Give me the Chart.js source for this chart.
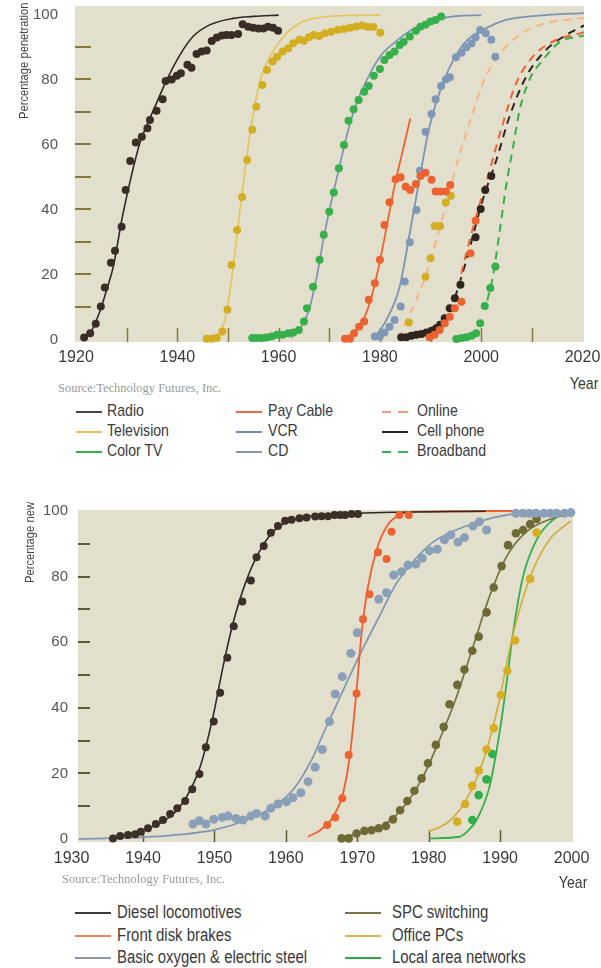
<!DOCTYPE html>
<html>
<head>
<meta charset="utf-8">
<script src="https://cdn.jsdelivr.net/npm/chart.js@4.4.1/dist/chart.umd.min.js"></script>
<style>
html,body{margin:0;padding:0;background:#fff;}
#wrap{position:relative;width:601px;height:968px;overflow:hidden;font-family:'Liberation Sans',Arial,sans-serif;color:#3a3a3a;}
canvas{position:absolute;left:0;}
.t{position:absolute;white-space:nowrap;line-height:1.2;transform:scaleX(0.83);transform-origin:0 50%;}
.tr{transform-origin:100% 50%;}
.ls{position:absolute;}
.src{position:absolute;white-space:nowrap;font-family:'Liberation Serif','DejaVu Serif',serif;color:#9a9a9a;line-height:1.2;}
.yt{position:absolute;white-space:nowrap;line-height:1.2;transform-origin:0 0;transform:rotate(-90deg) scaleX(0.83);color:#444;}
</style>
</head>
<body>
<div id="wrap">
  <canvas id="c1" width="601" height="372" style="top:0"></canvas>
  <canvas id="c2" width="601" height="380" style="top:495px"></canvas>
  <div class="yt" id="yt1" style="font-size:13.5px;">Percentage penetration</div>
  <div class="yt" id="yt2" style="font-size:13.5px;">Percentage new</div>
  <div class="t tr" style="right:3px;top:374px;font-size:17px;">Year</div>
  <div class="src" style="left:58px;top:381px;font-size:12.5px;">Source:Technology Futures, Inc.</div>
  <div class="t tr" style="right:14px;top:873px;font-size:17px;">Year</div>
  <div class="src" style="left:62px;top:872px;font-size:12.5px;">Source:Technology Futures, Inc.</div>
</div>
<script>
// ---------------- TOP CHART DATA ----------------
const topXLabels = [1920, 1940, 1960, 1980, 2000, 2020];
const topXMinor = [1930, 1940, 1950, 1960, 1970, 1980, 1990, 2000, 2010];
const topYLabels = [0, 20, 40, 60, 80, 100];
const topYMinor = [10, 20, 30, 40, 50, 60, 70, 80, 90];

const radioDotYears = [1921.6,1922.8,1923.9,1924.9,1925.7,1926.9,1927.7,1929.0,1929.8,1930.7,1931.8,1933.0,1934.1,1934.6,1935.9,1937.1,1937.7,1938.9,1939.9,1940.7,1942.0,1942.8,1943.8,1944.8,1945.8,1946.8,1947.8,1948.8,1949.7,1950.7,1952.0,1952.9,1954.0,1955.0,1956.0,1957.0,1957.9,1958.9,1959.9];
const radioDotValues = [0.6,1.9,4.8,10.1,16,23.6,27.3,34.7,46,54.9,60.6,62.4,65,67.5,70.4,73.9,79.5,80,81.1,81.9,84.5,83.6,87.8,88.6,88.9,91.8,92.9,93.5,93.7,93.7,94,97,96.2,95.9,95.7,95.7,96.2,95.9,95];
const radioLineYears = [1921.5,1923,1924.7,1926,1927.4,1929,1930.3,1931.5,1932.6,1934,1935.3,1937.9,1940.5,1943.1,1946.4,1951,1955,1960];
const radioLineValues = [0,2.5,8.6,15,22.7,36.5,46,54,60.4,66,70.6,79.8,87.5,93.2,96.8,98.8,99.4,99.8];

const tvDotYears = [1945.8,1946.8,1947.8,1948.9,1949.9,1950.7,1951.8,1952.8,1953.8,1954.8,1955.6,1956.8,1957.7,1958.8,1959.7,1960.8,1961.9,1962.9,1964.1,1965.0,1966.0,1966.9,1968.0,1969.1,1970.4,1971.7,1972.9,1974.1,1975.3,1976.5,1977.6,1978.7,1980.1];
const tvDotValues = [0.2,0.2,0.5,2.4,9.1,22.9,33.7,43.8,55.2,64.5,71.6,78.3,82.9,85.5,87,88.6,89.6,91.1,92.2,91.9,93,93.7,93.4,94.2,94.7,95.3,95.5,95.9,96.3,96.6,96.2,96.1,94.4];
const tvLineYears = [1946.5,1948,1949.4,1950.7,1952.3,1953.7,1955,1956.6,1958.9,1961.6,1964.8,1969.4,1975,1980];
const tvLineValues = [0,1.5,6,18.3,38.8,56.2,69.6,80.9,88.6,94.2,97.8,99.3,99.7,99.8];

const colorTvDotYears = [1954.8,1955.6,1956.6,1957.6,1958.6,1959.7,1960.8,1961.9,1962.9,1964.0,1965.0,1965.6,1966.8,1968.1,1968.9,1970.0,1970.9,1971.9,1972.9,1973.8,1974.8,1975.8,1976.9,1977.8,1978.8,1980.0,1980.9,1981.9,1982.9,1983.9,1984.7,1985.9,1987.1,1988.0,1989.0,1990.0,1991.0,1992.1];
const colorTvDotValues = [0.4,0.4,0.4,0.6,0.9,1.4,1.4,1.9,2.1,2.9,5.5,9.6,16.2,24.5,32.2,39.3,45.2,52.7,59.8,67.3,70.8,73.7,76.2,78,81.1,83.2,86,87.5,88.6,90.6,91.6,93.2,95,96.2,96.8,97.8,98.3,99.4];
const colorTvLineYears = [1962.5,1964.5,1966,1967.5,1969,1970.5,1972,1973.5,1975,1977,1980,1983,1986,1990,1995,2000];
const colorTvLineValues = [0.5,4,9,19,32,43,53,63,71,78.5,87,91.5,95,98,99.5,99.8];

const payCableDotYears = [1973.1,1974.1,1974.9,1975.9,1976.9,1977.8,1979,1980,1980.9,1981.9,1983.1,1984.1,1985.1,1986,1987.1,1988,1989,1990.2,1991,1991.9,1993,1993.9];
const payCableDotValues = [0.2,0.2,1.9,3.9,5.5,12.2,17.3,24.5,35.2,42.2,49.3,49.9,47,46,47.8,50.3,51.3,49.1,45.5,45.5,45.5,47.5];
const payCableLineYears = [1972.7,1975,1977,1978.5,1980,1981.5,1983,1984.5,1986];
const payCableLineValues = [0,2.5,7,14,24,36,48,58,68];

const vcrDotYears = [1979,1980,1980.9,1981.9,1982.9,1984.1,1984.9,1985.9,1987.2,1987.9,1989,1990.2,1991,1992.1,1993,1993.8,1995,1996.1,1997.1,1998.1,1998.9,1999.8,2000.9,2002,2002.8];
const vcrDotValues = [0.9,0.9,2.1,3.9,6,10.1,17.8,29.9,39.8,51.9,63.9,69.4,73.9,78,80,80.7,86.8,88.2,89.9,91.1,93,95.2,94.2,92.2,87];
const vcrLineYears = [1978.6,1981.3,1983.9,1985.9,1987.9,1989.8,1992.4,1995.7,1997.5,1999.7,2004.9,2012.8,2020.3];
const vcrLineValues = [0,6,16.2,32.7,50.1,65.5,78.8,89.1,92.5,94.7,98.3,99.8,100.4];

const cdDotYears = [1985.7,1989,1990,1990.8,1991.9,1993,1994];
const cdDotValues = [5.2,19.3,25,34.9,34.9,42.1,44.2];

const onlineLineYears = [1983.9,1984.6,1987.2,1989.2,1992.4,1994.3,1996.4,1998.1,2000.3,2003,2005.5,2007.6,2010.2,2014.1,2020.3];
const onlineLineValues = [0,3.4,12.2,20.4,37.8,49,60.4,68.6,78.8,86.5,91,93.7,96,97.8,98.9];

const cellDotYears = [1984.2,1985.2,1986.2,1987.2,1988.2,1989.2,1990.2,1991.1,1991.9,1992.8,1993.8,1994.8,1995.9,1998.9,1999.9,2000.8,2002];
const cellDotValues = [0.7,0.7,1.1,1.4,1.7,2.1,2.7,3.4,4.5,6.5,9.6,12.7,16.8,31.4,40.1,46,50.3];
const cellLineYears = [1994.8,1997.1,2000.3,2003,2005.6,2008.9,2012.8,2016.8,2020.3];
const cellLineValues = [12.7,24.5,42.9,55.2,68.6,80.9,89.1,93.7,96.6];

const onlineDotYears = [1989.8,1990.8,1991.8,1992.8,1993.8,1994.8,1996.1,1997.9,1998.9];
const onlineDotValues = [0.7,1.4,2.9,5,7,9.6,11.6,26.5,36.5];
const onlineFitYears = [1995.5,1996.4,1999,2001.7,2004.3,2006.9,2010.2,2014.1,2020.3];
const onlineFitValues = [16,22.4,37.8,52.2,66.5,78.8,87,91.6,94.5];

const broadbandDotYears = [1995.1,1996.1,1997.1,1998.1,1999,1999.8,2000.7,2001.8,2002.8];
const broadbandDotValues = [0.1,0.4,0.7,1.1,1.9,5,10.3,15.8,22.4];
const broadbandLineYears = [2001.2,2002.3,2003.6,2004.9,2006.3,2007.6,2009.5,2012.2,2015.5,2020.3];
const broadbandLineValues = [12,19.3,32.7,47,59.3,70.6,79.8,86,91.5,93.5];

// ---------------- BOTTOM CHART DATA ----------------
const botXLabels = [1930, 1940, 1950, 1960, 1970, 1980, 1990, 2000];
const botXMinor = [1940, 1950, 1960, 1970, 1980, 1990];
const botYLabels = [0, 20, 40, 60, 80, 100];
const botYMinor = [10, 20, 30, 40, 50, 60, 70, 80, 90];

const dieselDotYears = [1935.8,1936.8,1937.9,1938.9,1939.7,1940.7,1941.8,1942.8,1943.8,1944.8,1945.9,1946.9,1947.9,1948.8,1949.9,1950.8,1951.8,1952.7,1953.9,1955.1,1955.9,1956.9,1957.9,1958.9,1959.9,1960.8,1961.9,1962.9,1964.1,1965.0,1965.9,1966.8,1967.6,1968.3,1969.2,1970.1];
const dieselDotValues = [0.2,0.9,1.2,1.5,2.2,3.3,4.6,5.8,7.6,9.4,11.6,15.2,19.8,28,35.8,44.6,55.3,64.9,72.4,78.8,85.9,89.3,93.4,95.4,97,97.3,97.8,98,98.3,98.4,98.4,98.8,98.8,98.8,99.1,99.1];
const dieselLineYears = [1935.4,1940,1943.8,1946.1,1948,1949.8,1951.2,1952.6,1954.5,1956.4,1958.7,1962,1965.7,1975,1988];
const dieselLineValues = [0.3,2.7,6.8,12.9,22,37.3,52.5,65.8,79,88.1,94.7,97.8,98.8,99.6,99.9];

const brakesDotYears = [1965.8,1966.9,1967.9,1968.8,1969.9,1970.8,1971.7,1972.9,1974.1,1974.8,1975.9,1977.2];
const brakesDotValues = [4.3,6.6,12.4,25.6,44.4,67,74.6,87.4,85.4,93.7,98.8,98.8];
const brakesLineYears = [1963.1,1964.8,1966.6,1968,1969,1969.9,1970.6,1971.5,1972.7,1974.1,1975.9,1978.7,1991.8];
const brakesLineValues = [0.7,2.7,6.8,13.9,26.1,45.4,62.7,76.9,88.1,95.2,98.8,99.8,100];

const steelDotYears = [1947,1947.9,1948.8,1949.9,1951.1,1951.9,1953,1954,1955.1,1955.9,1957.1,1957.9,1958.9,1960.1,1961,1962.1,1963.1,1964.1,1965.1,1966.1,1966.9,1967.9,1969.1,1970,1973,1974.1,1975.1,1976.2,1977.1,1978.2,1979.1,1980.1,1981.2,1982.2,1983.1,1984.1,1985,1986.2,1987.1,1988.1,1992.2,1993.2,1994.1,1995,1996.1,1997,1997.9,1999,1999.9];
const steelDotValues = [4.6,5.6,4.6,6,6.6,7,6.3,5.8,7,7.8,7,9.4,10.7,11.4,12.6,14.1,17.5,21.9,27.3,35.8,44.2,49.5,56.6,62.9,73.1,75.1,80.5,81.5,83.5,83.8,85.6,87.9,88.3,91.2,92.7,90.5,91.9,95.4,96.7,94.2,99.3,99.3,99.3,99.3,99.3,99.3,99.3,99.3,99.5];
const steelLineYears = [1931,1942,1950,1954.5,1958.2,1961,1963.8,1965,1967,1969,1971,1973,1975.5,1978,1980.6,1983.4,1986.7,1991,1997,2000];
const steelLineValues = [0,0.8,2.8,5.8,9.8,15,25,31,40.5,50,59,67.5,78,85,90.5,93.8,96.5,98.8,99.5,99.7];

const spcDotYears = [1967.8,1968.8,1969.9,1971,1972,1973,1974,1975,1976,1977,1978,1979,1979.9,1981,1982.1,1982.9,1984,1985,1986.1,1987,1988.1,1989.1,1990.2,1991.1,1992.2,1993.2,1994.2,1995.1];
const spcDotValues = [0.2,0.2,1.7,2.5,2.7,3.3,4,6,8.8,11.6,14.7,18.5,23.1,28.7,34.2,41.1,47,51.7,57.4,61.7,69.1,76.7,83.2,89.6,93.2,94.2,96,97.6];
const spcLineYears = [1968,1971.3,1974.1,1976.9,1979.2,1981.5,1983.9,1986.2,1988.5,1990.9,1993.7,1997.4,1999.9];
const spcLineValues = [0.7,2.2,4.8,10.9,19,30.2,43.4,58.6,73.9,86.1,93.7,97.8,99.2];

const pcDotYears = [1984,1985.1,1986.1,1987,1988.1,1989.1,1990.1,1991,1992.1,1994.2,1995.1];
const pcDotValues = [5.3,10.7,16.2,20.8,27.3,33.8,43.9,51.3,60.5,79.3,93.4];
const pcLineYears = [1979.9,1982.5,1984.3,1986.2,1988.1,1989.9,1991.3,1992.7,1994.6,1996.9,1999.9];
const pcLineValues = [2.2,4.8,8.8,15.9,27.1,42.4,57.6,69.8,82,91.2,97];

const lanDotYears = [1986.1,1987,1988.1,1988.9];
const lanDotValues = [5.8,13.4,18.2,25.9];
const lanLineYears = [1980.1,1984.3,1985.5,1986.7,1988.5,1989.9,1990.9,1991.8,1993.2,1995.1,1997.4,1999.9];
const lanLineValues = [0.2,0.7,2.5,5.8,15.9,32.2,47.5,62.7,80,91.2,97.3,99.5];

// ---------------- LEGENDS ----------------
const topLegendLabels = ['Radio','Television','Color TV','Pay Cable','VCR','CD','Online','Cell phone','Broadband'];
const topLegendColors = ['#4a4644','#f5b65e','#35b34a','#ee6a45','#7890b0','#8a94a4','#f29a7a','#2b2420','#35b34a'];
const topLegendDashed = [false,false,false,false,false,false,true,false,true];
const botLegendLabels = ['Diesel locomotives','Front disk brakes','Basic oxygen & electric steel','SPC switching','Office PCs','Local area networks'];
const botLegendColors = ['#3d3a38','#f08560','#8e98a6','#7a7646','#d9b450','#2fa84a'];

// ---------------- HELPERS ----------------
const FONT = "'Liberation Sans',Arial,sans-serif";
const pts = (xs, ys) => xs.map((x, i) => ({x: x, y: ys[i]}));
function dots(label, xs, ys, color, r) {
  return {type: 'scatter', label: label, data: pts(xs, ys), backgroundColor: color, borderWidth: 0,
    pointRadius: r || 4, pointHoverRadius: 0, showLine: false, order: 1, clip: false};
}
function curve(label, xs, ys, color, w, dash) {
  return {type: 'line', label: label, data: pts(xs, ys), borderColor: color, backgroundColor: color,
    borderWidth: w || 1.6, borderDash: dash || [], pointRadius: 0, fill: false,
    cubicInterpolationMode: 'monotone', order: 2, borderCapStyle: 'butt'};
}

const deco = {
  id: 'deco',
  beforeDraw(chart, args, o) {
    const {ctx, chartArea: a} = chart;
    ctx.save();
    ctx.fillStyle = o.bg;
    ctx.fillRect(a.left, a.top, a.right - a.left, a.bottom - a.top);
    ctx.restore();
  },
  beforeDatasetsDraw(chart, args, o) {
    const {ctx, chartArea: a, scales} = chart;
    ctx.save();
    ctx.strokeStyle = o.tickColor;
    ctx.lineWidth = o.xWidth;
    o.xTicks.forEach(v => {
      const px = Math.round(scales.x.getPixelForValue(v)) + 0.5;
      ctx.beginPath(); ctx.moveTo(px, a.bottom); ctx.lineTo(px, a.bottom - o.xLen); ctx.stroke();
    });
    ctx.lineWidth = o.yWidth;
    o.yTicks.forEach(v => {
      const py = Math.round(scales.y.getPixelForValue(v));
      ctx.beginPath(); ctx.moveTo(a.left, py); ctx.lineTo(a.left + o.yLen, py); ctx.stroke();
    });
    ctx.restore();
  }
};

function makeChart(id, cfg) {
  return new Chart(document.getElementById(id), {
    type: 'scatter',
    data: {datasets: cfg.datasets},
    plugins: [deco],
    options: {
      responsive: false, animation: false, events: [],
      layout: {padding: cfg.padding, autoPadding: false},
      plugins: {legend: {display: false}, tooltip: {enabled: false}, deco: cfg.deco},
      scales: {
        x: {type: 'linear', min: cfg.xmin, max: cfg.xmax,
          afterBuildTicks: s => { s.ticks = cfg.xLabels.map(v => ({value: v})); },
          afterFit: s => { s.height = cfg.xHeight; s.paddingLeft = 0; s.paddingRight = 0; },
          grid: {display: false, drawTicks: false}, border: {display: false},
          ticks: {padding: cfg.xPad, autoSkip: false, maxRotation: 0, color: '#3a3a3a',
            font: {family: FONT, size: 16}, callback: v => String(v)}},
        y: {type: 'linear', min: cfg.ymin, max: cfg.ymax,
          afterBuildTicks: s => { s.ticks = cfg.yLabels.map(v => ({value: v})); },
          afterFit: s => { s.width = cfg.yWidth; s.paddingTop = 0; s.paddingBottom = 0; },
          grid: {display: false, drawTicks: false}, border: {display: false},
          ticks: {padding: cfg.yPad, color: '#555', font: {family: FONT, size: 15}, callback: v => String(v)}}
      }
    }
  });
}

makeChart('c1', {
  padding: {left: 0, right: 17, top: 6, bottom: 0},
  xmin: 1919.8, xmax: 2020.3, ymin: -0.8, ymax: 102.6,
  xLabels: topXLabels, yLabels: topYLabels, xHeight: 30, yWidth: 75, xPad: 6, yPad: 17,
  deco: {bg: '#e3dfcd', tickColor: '#857a3c', xTicks: topXMinor, yTicks: topYMinor, xLen: 14, yLen: 16, xWidth: 1.5, yWidth: 2},
  datasets: [
    curve('Radio', radioLineYears, radioLineValues, '#2f2925', 1.6),
    curve('Television', tvLineYears, tvLineValues, '#e2c555', 1.6),
    curve('Color TV', colorTvLineYears, colorTvLineValues, '#7b93b4', 1.7),
    curve('Pay Cable', payCableLineYears, payCableLineValues, '#ee6232', 1.8),
    curve('VCR', vcrLineYears, vcrLineValues, '#7b93b4', 1.8),
    curve('Online', onlineLineYears, onlineLineValues, '#f7b47e', 2, [8, 6]),
    curve('Online fit', onlineFitYears, onlineFitValues, '#ef6133', 2, [8, 6]),
    curve('Cell phone', cellLineYears, cellLineValues, '#2c2520', 2, [8, 6]),
    curve('Broadband', broadbandLineYears, broadbandLineValues, '#35b04a', 2, [8, 6]),
    dots('Radio data', radioDotYears, radioDotValues, '#3a2d25'),
    dots('Television data', tvDotYears, tvDotValues, '#d4ae22'),
    dots('Color TV data', colorTvDotYears, colorTvDotValues, '#35b04a'),
    dots('Pay Cable data', payCableDotYears, payCableDotValues, '#ec6230'),
    dots('VCR data', vcrDotYears, vcrDotValues, '#7f98b6'),
    dots('CD data', cdDotYears, cdDotValues, '#d3ad22'),
    dots('Online data', onlineDotYears, onlineDotValues, '#ec6230'),
    dots('Cell phone data', cellDotYears, cellDotValues, '#2e251f'),
    dots('Broadband data', broadbandDotYears, broadbandDotValues, '#35b04a')
  ]
});

makeChart('c2', {
  padding: {left: 0, right: 28, top: 15, bottom: 0},
  xmin: 1930.9, xmax: 2000.2, ymin: -0.9, ymax: 100.3,
  xLabels: botXLabels, yLabels: botYLabels, xHeight: 33, yWidth: 78, xPad: 7, yPad: 10,
  deco: {bg: '#e3dfcd', tickColor: '#5f5a3a', xTicks: botXMinor, yTicks: botYMinor, xLen: 12, yLen: 12, xWidth: 1.5, yWidth: 2},
  datasets: [
    curve('Diesel locomotives', dieselLineYears, dieselLineValues, '#2e2a26', 1.6),
    curve('Front disk brakes', brakesLineYears, brakesLineValues, '#ee5f33', 1.8),
    curve('Basic oxygen & electric steel', steelLineYears, steelLineValues, '#7f96b2', 1.7),
    curve('SPC switching', spcLineYears, spcLineValues, '#77723f', 1.7),
    curve('Office PCs', pcLineYears, pcLineValues, '#d2ae3a', 1.7),
    curve('Local area networks', lanLineYears, lanLineValues, '#30b04a', 1.8),
    dots('Diesel data', dieselDotYears, dieselDotValues, '#3b2f28'),
    dots('Brakes data', brakesDotYears, brakesDotValues, '#ee6232'),
    dots('Steel data', steelDotYears, steelDotValues, '#8aa0b8', 4.5),
    dots('SPC data', spcDotYears, spcDotValues, '#6f6a35', 4.3),
    dots('PC data', pcDotYears, pcDotValues, '#d6ae22', 4.3),
    dots('LAN data', lanDotYears, lanDotValues, '#2fae4a', 4.3)
  ]
});

// ---------------- HTML LEGENDS & TITLES ----------------
const wrap = document.getElementById('wrap');
function legendItem(sx, sw, tx, cy, color, dashed, text, size) {
  const s = document.createElement('div');
  s.className = 'ls';
  s.style.left = sx + 'px'; s.style.top = (cy - 1) + 'px';
  s.style.width = sw + 'px'; s.style.height = '2px';
  s.style.background = dashed
    ? 'linear-gradient(to right,' + color + ' 0 9px,transparent 9px 16px,' + color + ' 16px 100%)'
    : color;
  wrap.appendChild(s);
  const t = document.createElement('div');
  t.className = 't';
  t.textContent = text;
  t.style.left = tx + 'px'; t.style.top = (cy - size * 0.62) + 'px';
  t.style.fontSize = size + 'px';
  wrap.appendChild(t);
}
const topCols = [[76, 107], [236, 268], [382, 417]];
const topRows = [412, 432, 452];
topLegendLabels.forEach((lab, i) => {
  const c = topCols[Math.floor(i / 3)], r = topRows[i % 3];
  legendItem(c[0], 26, c[1], r, topLegendColors[i], topLegendDashed[i], lab, 17);
});
const botCols = [[75, 117], [345, 392]];
const botRows = [913, 936, 958];
botLegendLabels.forEach((lab, i) => {
  const c = botCols[Math.floor(i / 3)], r = botRows[i % 3];
  legendItem(c[0], 36, c[1], r, botLegendColors[i], false, lab, 18);
});
function placeTitle(id, centerX, endY) {
  const el = document.getElementById(id);
  const w = el.offsetWidth, h = el.offsetHeight;
  el.style.left = (centerX - h / 2) + 'px';
  el.style.top = (endY + 0.83 * w) + 'px';
}
placeTitle('yt1', 24, 3);
placeTitle('yt2', 30, 502);
</script>
</body>
</html>
